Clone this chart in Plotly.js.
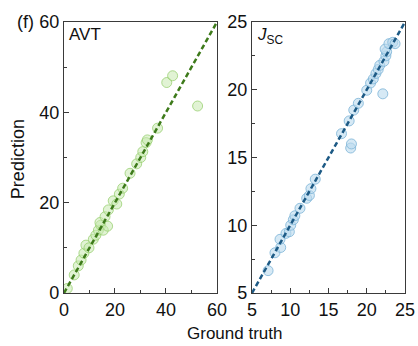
<!DOCTYPE html>
<html>
<head>
<meta charset="utf-8">
<script src="https://cdn.plot.ly/plotly-3.0.1.min.js"></script>
<style>
  html, body { margin: 0; padding: 0; background: #fff; }
  #chart { width: 418px; height: 346px; }
</style>
</head>
<body>
<div id="chart"></div>
<script>
// AVT: ground truth vs. predicted values
const avtTruth = [1.3, 4.0, 5.6, 6.7, 7.8, 8.6, 9.8, 11.5, 12.5, 13.5, 14.4, 15.4, 17.1, 14.1, 16.1,
                  17.4, 19.3, 20.7, 21.7, 23.0, 25.9, 28.5, 30.1, 30.9, 32.2, 32.7, 36.7, 40.3, 42.6, 52.4];
const avtPred  = [1.0, 4.0, 6.0, 7.3, 8.8, 10.6, 10.0, 11.9, 12.8, 13.9, 15.0, 13.9, 14.8, 15.6, 16.9,
                  18.4, 20.4, 19.7, 21.9, 23.2, 26.5, 28.6, 30.0, 31.3, 33.3, 33.9, 36.5, 46.6, 48.1, 41.4];

// JSC: ground truth vs. predicted values
const jscTruth = [7.1, 8.0, 8.75, 8.66, 9.44, 9.88, 10.06, 10.4, 10.6, 11.27, 12.15, 12.5, 12.7, 13.27,
                  17.9, 18.0, 16.7, 17.7, 18.3, 18.9, 22.1, 20.0, 20.5, 20.86, 21.2, 21.5, 21.7, 22.25,
                  22.5, 22.6, 22.4, 22.9, 23.4, 23.7];
const jscPred  = [6.65, 7.97, 8.36, 8.96, 9.4, 9.52, 10.0, 10.4, 10.7, 11.25, 11.99, 12.2, 12.7, 13.4,
                  15.7, 16.0, 16.76, 17.7, 18.5, 19.0, 19.7, 19.96, 20.5, 20.8, 21.2, 21.5, 21.8, 22.1,
                  22.5, 22.8, 23.0, 23.4, 23.5, 23.4];

// Parity lines (y = x) across each axis range
const avtRange = [0, 60];
const jscRange = [5, 25];

const avtTicks = [0, 20, 40, 60];
const jscTicks = [5, 10, 15, 20, 25];

const FONT = 'Liberation Sans, Arial, sans-serif';
const AXIS_COLOR = '#3a3a3a';

// Scatter first, dashed parity line drawn over it
const traces = [
  {
    x: avtTruth, y: avtPred, xaxis: 'x', yaxis: 'y', mode: 'markers',
    marker: { size: 10, color: 'rgba(200,234,176,0.55)',
              line: { color: 'rgba(150,205,110,0.75)', width: 1 } }
  },
  {
    x: avtRange, y: avtRange, xaxis: 'x', yaxis: 'y', mode: 'lines',
    line: { color: '#3d7a1a', width: 2.5, dash: '5px,3px' }, hoverinfo: 'skip'
  },
  {
    x: jscTruth, y: jscPred, xaxis: 'x2', yaxis: 'y2', mode: 'markers',
    marker: { size: 10, color: 'rgba(186,218,238,0.6)',
              line: { color: 'rgba(125,180,215,0.8)', width: 1 } }
  },
  {
    x: jscRange, y: jscRange, xaxis: 'x2', yaxis: 'y2', mode: 'lines',
    line: { color: '#1d5a85', width: 2.5, dash: '5px,3px' }, hoverinfo: 'skip'
  }
];

function axis(range, ticks, domain, anchor, minorStep) {
  return {
    range: range, domain: domain, anchor: anchor,
    tickmode: 'array', tickvals: ticks,
    ticks: 'inside', ticklen: 5, tickwidth: 1, tickcolor: AXIS_COLOR,
    minor: { ticks: 'inside', ticklen: 3, tickwidth: 1, tickcolor: AXIS_COLOR, dtick: minorStep },
    showline: true, mirror: true, linecolor: AXIS_COLOR, linewidth: 1.2,
    showgrid: false, zeroline: false,
    tickfont: { family: FONT, size: 18, color: '#111' }
  };
}

const yDom = [0.1532, 0.9364];

const layout = {
  width: 418, height: 346,
  margin: { l: 0, r: 0, t: 0, b: 0 },
  paper_bgcolor: '#fff', plot_bgcolor: '#fff',
  showlegend: false,
  xaxis:  axis(avtRange, avtTicks, [0.1531, 0.5191], 'y', 10),
  yaxis:  axis(avtRange, avtTicks, yDom, 'x', 10),
  xaxis2: axis(jscRange, jscTicks, [0.6029, 0.9689], 'y2', 2.5),
  yaxis2: axis(jscRange, jscTicks, yDom, 'x2', 2.5),
  annotations: [
    { text: '(f)', xref: 'paper', yref: 'paper', x: 0.036, y: 0.936,
      xanchor: 'left', yanchor: 'middle', showarrow: false,
      font: { family: FONT, size: 18, color: '#111' } },
    { text: 'AVT', xref: 'x domain', yref: 'y domain', x: 0.02, y: 0.995,
      xanchor: 'left', yanchor: 'top', showarrow: false,
      font: { family: FONT, size: 17, color: '#111' } },
    { text: '<i>J</i><sub>SC</sub>', xref: 'x2 domain', yref: 'y2 domain', x: 0.02, y: 0.995,
      xanchor: 'left', yanchor: 'top', showarrow: false,
      font: { family: FONT, size: 17, color: '#111' } },
    { text: 'Prediction', xref: 'paper', yref: 'paper', x: 0.043, y: 0.54,
      xanchor: 'center', yanchor: 'middle', textangle: -90, showarrow: false,
      font: { family: FONT, size: 18, color: '#111' } },
    { text: 'Ground truth', xref: 'paper', yref: 'paper', x: 0.562, y: 0.036,
      xanchor: 'center', yanchor: 'middle', showarrow: false,
      font: { family: FONT, size: 17, color: '#111' } }
  ]
};

Plotly.newPlot('chart', traces, layout, { staticPlot: true, displayModeBar: false });
</script>
</body>
</html>
